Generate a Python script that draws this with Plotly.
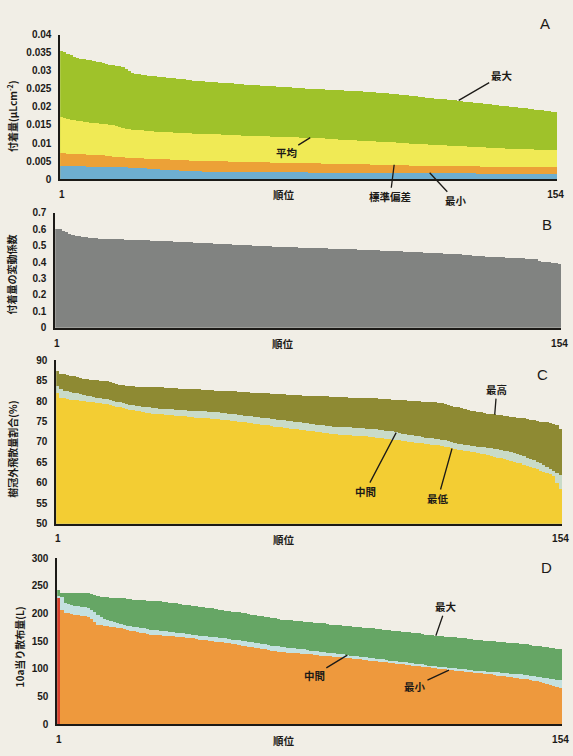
import plotly.graph_objects as go

W, H = 573, 756
ranks = list(range(1, 155))

# ---- A: deposition per rank (uL cm^-2) ----
deposit_max = [
    0.0355, 0.0352, 0.0348, 0.0344, 0.0340, 0.0336, 0.0334, 0.0333, 0.0331, 0.0330, 0.0328, 0.0326, 0.0324, 0.0322,
    0.0320, 0.0318, 0.0316, 0.0315, 0.0313, 0.0311, 0.0306, 0.0300, 0.0296, 0.0293, 0.0291, 0.0290, 0.0289, 0.0288,
    0.0287, 0.0286, 0.0285, 0.0284, 0.0283, 0.0282, 0.0281, 0.0280, 0.0279, 0.0278, 0.0277, 0.0276, 0.0275, 0.0274,
    0.0273, 0.0272, 0.0272, 0.0271, 0.0270, 0.0270, 0.0269, 0.0268, 0.0268, 0.0267, 0.0266, 0.0266, 0.0265, 0.0264,
    0.0264, 0.0263, 0.0262, 0.0262, 0.0261, 0.0261, 0.0260, 0.0259, 0.0259, 0.0258, 0.0258, 0.0257, 0.0256, 0.0256,
    0.0255, 0.0255, 0.0254, 0.0254, 0.0253, 0.0253, 0.0252, 0.0252, 0.0251, 0.0251, 0.0250, 0.0250, 0.0249, 0.0249,
    0.0248, 0.0248, 0.0247, 0.0247, 0.0246, 0.0246, 0.0245, 0.0245, 0.0244, 0.0244, 0.0243, 0.0243, 0.0242, 0.0242,
    0.0241, 0.0241, 0.0240, 0.0239, 0.0238, 0.0237, 0.0236, 0.0235, 0.0234, 0.0233, 0.0232, 0.0231, 0.0230, 0.0229,
    0.0228, 0.0227, 0.0226, 0.0225, 0.0224, 0.0224, 0.0223, 0.0222, 0.0221, 0.0220, 0.0219, 0.0218, 0.0217, 0.0216,
    0.0215, 0.0214, 0.0213, 0.0212, 0.0211, 0.0210, 0.0209, 0.0208, 0.0207, 0.0206, 0.0205, 0.0204, 0.0203, 0.0202,
    0.0201, 0.0200, 0.0199, 0.0198, 0.0197, 0.0196, 0.0195, 0.0194, 0.0193, 0.0192, 0.0191, 0.0190, 0.0188, 0.0186,
]
deposit_mean = [
    0.0172, 0.0170, 0.0168, 0.0166, 0.0165, 0.0163, 0.0162, 0.0160, 0.0159, 0.0158, 0.0157, 0.0156, 0.0155, 0.0154,
    0.0153, 0.0152, 0.0150, 0.0148, 0.0145, 0.0142, 0.0140, 0.0139, 0.0138, 0.0137, 0.0136, 0.0136, 0.0135, 0.0134,
    0.0134, 0.0133, 0.0133, 0.0132, 0.0132, 0.0131, 0.0131, 0.0130, 0.0130, 0.0129, 0.0129, 0.0128, 0.0128, 0.0127,
    0.0127, 0.0127, 0.0126, 0.0126, 0.0126, 0.0125, 0.0125, 0.0125, 0.0124, 0.0124, 0.0124, 0.0123, 0.0123, 0.0123,
    0.0122, 0.0122, 0.0122, 0.0121, 0.0121, 0.0121, 0.0120, 0.0120, 0.0120, 0.0119, 0.0119, 0.0119, 0.0118, 0.0118,
    0.0118, 0.0117, 0.0117, 0.0117, 0.0116, 0.0116, 0.0116, 0.0115, 0.0115, 0.0115, 0.0114, 0.0114, 0.0113, 0.0113,
    0.0112, 0.0112, 0.0111, 0.0111, 0.0110, 0.0110, 0.0109, 0.0109, 0.0108, 0.0108, 0.0107, 0.0107, 0.0106, 0.0106,
    0.0105, 0.0105, 0.0104, 0.0104, 0.0103, 0.0103, 0.0102, 0.0102, 0.0101, 0.0101, 0.0100, 0.0100, 0.0099, 0.0099,
    0.0098, 0.0098, 0.0097, 0.0097, 0.0096, 0.0096, 0.0095, 0.0095, 0.0094, 0.0094, 0.0093, 0.0093, 0.0092, 0.0092,
    0.0091, 0.0091, 0.0090, 0.0090, 0.0089, 0.0089, 0.0088, 0.0088, 0.0088, 0.0087, 0.0087, 0.0087, 0.0086, 0.0086,
    0.0086, 0.0085, 0.0085, 0.0085, 0.0084, 0.0084, 0.0084, 0.0083, 0.0083, 0.0083, 0.0082, 0.0082, 0.0082, 0.0081,
]
deposit_sd = [
    0.0073, 0.0073, 0.0072, 0.0072, 0.0071, 0.0071, 0.0070, 0.0070, 0.0069, 0.0069, 0.0068, 0.0068, 0.0067, 0.0067,
    0.0066, 0.0066, 0.0064, 0.0063, 0.0062, 0.0062, 0.0061, 0.0061, 0.0060, 0.0060, 0.0059, 0.0059, 0.0058, 0.0058,
    0.0057, 0.0057, 0.0057, 0.0056, 0.0056, 0.0056, 0.0055, 0.0055, 0.0055, 0.0054, 0.0054, 0.0054, 0.0053, 0.0053,
    0.0053, 0.0053, 0.0052, 0.0052, 0.0052, 0.0052, 0.0051, 0.0051, 0.0051, 0.0051, 0.0050, 0.0050, 0.0050, 0.0050,
    0.0049, 0.0049, 0.0049, 0.0049, 0.0048, 0.0048, 0.0048, 0.0048, 0.0048, 0.0047, 0.0047, 0.0047, 0.0047, 0.0047,
    0.0046, 0.0046, 0.0046, 0.0046, 0.0046, 0.0046, 0.0045, 0.0045, 0.0045, 0.0045, 0.0045, 0.0044, 0.0044, 0.0044,
    0.0044, 0.0044, 0.0043, 0.0043, 0.0043, 0.0043, 0.0043, 0.0042, 0.0042, 0.0042, 0.0042, 0.0042, 0.0041, 0.0041,
    0.0041, 0.0041, 0.0041, 0.0041, 0.0040, 0.0040, 0.0040, 0.0040, 0.0040, 0.0040, 0.0039, 0.0039, 0.0039, 0.0039,
    0.0039, 0.0039, 0.0039, 0.0038, 0.0038, 0.0038, 0.0038, 0.0038, 0.0038, 0.0038, 0.0037, 0.0037, 0.0037, 0.0037,
    0.0037, 0.0037, 0.0037, 0.0037, 0.0036, 0.0036, 0.0036, 0.0036, 0.0036, 0.0036, 0.0036, 0.0036, 0.0035, 0.0035,
    0.0035, 0.0035, 0.0035, 0.0035, 0.0035, 0.0035, 0.0035, 0.0034, 0.0034, 0.0034, 0.0034, 0.0034, 0.0034, 0.0034,
]
deposit_min = [
    0.0039, 0.0039, 0.0038, 0.0038, 0.0038, 0.0037, 0.0037, 0.0037, 0.0036, 0.0036, 0.0036, 0.0036, 0.0035, 0.0035,
    0.0035, 0.0035, 0.0035, 0.0034, 0.0034, 0.0034, 0.0034, 0.0033, 0.0033, 0.0032, 0.0032, 0.0031, 0.0031, 0.0030,
    0.0030, 0.0029, 0.0029, 0.0028, 0.0028, 0.0027, 0.0027, 0.0026, 0.0026, 0.0025, 0.0025, 0.0024, 0.0024, 0.0023,
    0.0023, 0.0023, 0.0022, 0.0022, 0.0022, 0.0022, 0.0022, 0.0021, 0.0021, 0.0021, 0.0021, 0.0021, 0.0021, 0.0020,
    0.0020, 0.0020, 0.0020, 0.0020, 0.0020, 0.0020, 0.0020, 0.0020, 0.0020, 0.0020, 0.0020, 0.0020, 0.0020, 0.0020,
    0.0020, 0.0020, 0.0020, 0.0020, 0.0020, 0.0020, 0.0020, 0.0019, 0.0019, 0.0019, 0.0019, 0.0019, 0.0019, 0.0019,
    0.0019, 0.0019, 0.0019, 0.0019, 0.0019, 0.0019, 0.0019, 0.0019, 0.0019, 0.0019, 0.0019, 0.0019, 0.0019, 0.0019,
    0.0019, 0.0019, 0.0019, 0.0019, 0.0018, 0.0018, 0.0018, 0.0018, 0.0018, 0.0018, 0.0018, 0.0018, 0.0018, 0.0018,
    0.0018, 0.0018, 0.0018, 0.0018, 0.0018, 0.0018, 0.0018, 0.0018, 0.0018, 0.0018, 0.0018, 0.0018, 0.0018, 0.0018,
    0.0018, 0.0018, 0.0018, 0.0017, 0.0017, 0.0017, 0.0017, 0.0017, 0.0017, 0.0017, 0.0017, 0.0017, 0.0017, 0.0017,
    0.0017, 0.0017, 0.0017, 0.0017, 0.0017, 0.0017, 0.0016, 0.0016, 0.0016, 0.0016, 0.0016, 0.0016, 0.0016, 0.0016,
]

# ---- B: coefficient of variation of deposition ----
deposit_cv = [
    0.605, 0.600, 0.592, 0.585, 0.575, 0.568, 0.562, 0.558, 0.555, 0.552, 0.550, 0.548, 0.546, 0.545,
    0.544, 0.543, 0.542, 0.541, 0.540, 0.540, 0.539, 0.538, 0.537, 0.537, 0.536, 0.535, 0.535, 0.534,
    0.533, 0.532, 0.531, 0.530, 0.530, 0.529, 0.528, 0.527, 0.526, 0.525, 0.524, 0.523, 0.522, 0.521,
    0.520, 0.519, 0.518, 0.517, 0.516, 0.515, 0.514, 0.513, 0.512, 0.511, 0.510, 0.509, 0.508, 0.507,
    0.506, 0.505, 0.504, 0.503, 0.502, 0.501, 0.500, 0.499, 0.498, 0.497, 0.496, 0.495, 0.494, 0.494,
    0.493, 0.492, 0.492, 0.491, 0.490, 0.490, 0.489, 0.488, 0.488, 0.487, 0.486, 0.486, 0.485, 0.484,
    0.484, 0.483, 0.482, 0.482, 0.481, 0.480, 0.480, 0.479, 0.478, 0.478, 0.477, 0.476, 0.475, 0.474,
    0.473, 0.472, 0.471, 0.470, 0.469, 0.468, 0.467, 0.466, 0.465, 0.464, 0.463, 0.462, 0.461, 0.460,
    0.459, 0.458, 0.457, 0.456, 0.455, 0.454, 0.453, 0.452, 0.451, 0.450, 0.449, 0.448, 0.446, 0.445,
    0.443, 0.441, 0.439, 0.437, 0.436, 0.435, 0.434, 0.433, 0.432, 0.431, 0.430, 0.429, 0.428, 0.427,
    0.426, 0.425, 0.424, 0.423, 0.422, 0.421, 0.420, 0.408, 0.404, 0.402, 0.400, 0.398, 0.395, 0.392,
]

# ---- C: share of spray drifting outside the canopy (%) ----
drift_high = [
    87.2, 86.6, 86.5, 86.3, 86.2, 86.0, 85.8, 85.5, 85.4, 85.3, 85.2, 85.1, 85.0, 84.9,
    84.9, 84.8, 84.6, 84.4, 84.2, 84.0, 83.8, 83.7, 83.6, 83.6, 83.5, 83.5, 83.5, 83.4,
    83.4, 83.4, 83.3, 83.3, 83.3, 83.2, 83.2, 83.1, 83.1, 83.0, 83.0, 82.9, 82.9, 82.8,
    82.8, 82.8, 82.7, 82.7, 82.6, 82.6, 82.5, 82.5, 82.4, 82.4, 82.4, 82.3, 82.3, 82.2,
    82.2, 82.1, 82.1, 82.0, 82.0, 81.9, 81.9, 81.8, 81.8, 81.7, 81.7, 81.7, 81.6, 81.6,
    81.5, 81.5, 81.5, 81.4, 81.4, 81.3, 81.3, 81.3, 81.2, 81.2, 81.1, 81.1, 81.1, 81.0,
    81.0, 81.0, 80.9, 80.9, 80.9, 80.8, 80.8, 80.8, 80.8, 80.7, 80.7, 80.7, 80.6, 80.6,
    80.5, 80.5, 80.4, 80.4, 80.3, 80.3, 80.2, 80.2, 80.1, 80.0, 80.0, 79.9, 79.9, 79.8,
    79.8, 79.7, 79.7, 79.6, 79.5, 79.4, 79.2, 79.0, 78.8, 78.6, 78.4, 78.2, 78.0, 77.8,
    77.5, 77.4, 77.3, 77.2, 77.0, 76.9, 76.8, 76.7, 76.6, 76.5, 76.3, 76.2, 76.1, 76.0,
    75.9, 75.8, 75.7, 75.5, 75.4, 75.2, 75.0, 74.9, 74.8, 74.7, 74.5, 74.3, 74.0, 73.0,
]
drift_mid = [
    83.6, 82.8, 82.5, 82.3, 82.2, 82.0, 81.8, 81.6, 81.4, 81.3, 81.1, 81.0, 80.8, 80.7,
    80.5, 80.4, 80.2, 80.0, 79.8, 79.6, 79.4, 79.2, 79.1, 79.0, 78.8, 78.7, 78.6, 78.5,
    78.4, 78.3, 78.2, 78.1, 78.0, 78.0, 77.9, 77.9, 77.8, 77.8, 77.7, 77.7, 77.6, 77.6,
    77.5, 77.5, 77.4, 77.4, 77.3, 77.3, 77.2, 77.2, 77.1, 77.0, 76.9, 76.8, 76.7, 76.6,
    76.5, 76.4, 76.3, 76.2, 76.1, 76.0, 75.9, 75.8, 75.7, 75.6, 75.5, 75.4, 75.3, 75.2,
    75.1, 75.0, 74.9, 74.8, 74.7, 74.6, 74.5, 74.4, 74.3, 74.2, 74.1, 74.0, 73.9, 73.8,
    73.7, 73.7, 73.6, 73.6, 73.5, 73.5, 73.4, 73.4, 73.3, 73.3, 73.2, 73.2, 73.1, 73.0,
    72.9, 72.8, 72.7, 72.6, 72.5, 72.3, 72.2, 72.0, 71.9, 71.7, 71.6, 71.4, 71.3, 71.1,
    71.0, 70.9, 70.8, 70.7, 70.7, 70.5, 70.3, 70.1, 69.9, 69.7, 69.5, 69.4, 69.2, 69.1,
    69.0, 68.9, 68.8, 68.7, 68.6, 68.5, 68.4, 68.3, 68.1, 67.9, 67.8, 67.6, 67.4, 67.2,
    67.0, 66.7, 66.4, 66.1, 65.8, 65.5, 65.1, 64.7, 64.3, 63.9, 63.4, 62.8, 62.3, 61.9,
]
drift_low = [
    82.0, 80.8, 80.6, 80.4, 80.3, 80.2, 80.1, 80.0, 79.9, 79.8, 79.7, 79.6, 79.5, 79.4,
    79.3, 79.2, 79.0, 78.8, 78.6, 78.4, 78.2, 78.0, 77.8, 77.7, 77.5, 77.4, 77.2, 77.1,
    77.0, 76.9, 76.8, 76.7, 76.7, 76.6, 76.6, 76.5, 76.4, 76.4, 76.3, 76.2, 76.1, 76.0,
    75.9, 75.9, 75.8, 75.7, 75.7, 75.6, 75.5, 75.5, 75.4, 75.3, 75.2, 75.1, 75.0, 74.9,
    74.8, 74.7, 74.6, 74.5, 74.4, 74.3, 74.2, 74.1, 74.0, 73.9, 73.7, 73.6, 73.5, 73.4,
    73.3, 73.2, 73.1, 73.0, 72.9, 72.8, 72.7, 72.6, 72.5, 72.4, 72.3, 72.2, 72.1, 72.0,
    71.9, 71.8, 71.7, 71.7, 71.6, 71.6, 71.5, 71.5, 71.4, 71.4, 71.3, 71.2, 71.1, 71.0,
    70.9, 70.8, 70.7, 70.6, 70.5, 70.4, 70.3, 70.2, 70.1, 70.0, 69.9, 69.8, 69.7, 69.6,
    69.5, 69.4, 69.3, 69.2, 69.1, 69.0, 68.8, 68.6, 68.4, 68.2, 68.0, 67.9, 67.8, 67.6,
    67.5, 67.4, 67.2, 67.0, 66.9, 66.7, 66.5, 66.3, 66.1, 65.9, 65.7, 65.5, 65.3, 65.1,
    64.9, 64.7, 64.4, 64.1, 63.8, 63.5, 63.2, 62.9, 62.6, 62.3, 62.0, 61.5, 60.0, 58.3,
]

# ---- D: spray volume per 10a (L) ----
volume_max = [
    242, 237, 237, 237, 237, 237, 236, 236, 236, 236, 235, 233, 231, 230,
    229, 229, 228, 228, 227, 227, 227, 226, 226, 225, 225, 224, 224, 223,
    223, 223, 222, 222, 221, 220, 219, 219, 218, 217, 216, 215, 215, 214,
    213, 212, 211, 210, 210, 209, 208, 207, 206, 205, 204, 203, 203, 202,
    201, 200, 199, 198, 197, 196, 195, 194, 193, 192, 191, 190, 189, 189,
    188, 188, 187, 186, 186, 185, 185, 184, 183, 183, 182, 182, 181, 180,
    180, 179, 179, 178, 177, 177, 176, 176, 175, 174, 174, 173, 173, 172,
    172, 171, 170, 170, 169, 168, 168, 167, 166, 166, 165, 164, 164, 163,
    162, 162, 161, 160, 160, 159, 158, 158, 157, 157, 156, 155, 155, 154,
    154, 153, 152, 152, 151, 151, 150, 150, 149, 148, 148, 147, 147, 146,
    146, 145, 144, 144, 143, 142, 141, 141, 140, 139, 138, 137, 136, 136,
]
volume_mid = [
    232, 230, 219, 217, 215, 214, 213, 212, 211, 210, 207, 202, 197, 193,
    190, 188, 186, 184, 183, 181, 180, 178, 177, 176, 175, 174, 173, 172,
    171, 170, 170, 169, 168, 168, 167, 166, 165, 165, 164, 163, 163, 162,
    161, 160, 160, 159, 158, 158, 157, 156, 155, 155, 154, 153, 152, 152,
    151, 150, 149, 148, 147, 146, 145, 144, 143, 142, 141, 141, 140, 139,
    138, 138, 137, 136, 135, 135, 134, 133, 132, 132, 131, 130, 129, 129,
    128, 127, 127, 126, 125, 124, 124, 123, 122, 121, 121, 120, 119, 118,
    118, 117, 116, 115, 115, 114, 113, 112, 112, 111, 110, 109, 109, 108,
    107, 106, 106, 105, 104, 103, 103, 102, 101, 101, 100, 99, 99, 98,
    98, 97, 97, 96, 96, 95, 95, 94, 94, 93, 93, 92, 91, 91,
    90, 90, 89, 89, 88, 87, 86, 85, 84, 83, 82, 81, 80, 80,
]
volume_min = [
    228, 207, 201, 200, 199, 198, 197, 196, 195, 194, 190, 185, 180, 179,
    178, 177, 176, 175, 174, 173, 172, 171, 169, 168, 167, 165, 164, 163,
    162, 162, 161, 161, 160, 160, 159, 159, 158, 157, 157, 156, 155, 155,
    154, 153, 152, 152, 151, 150, 149, 148, 148, 147, 146, 145, 144, 143,
    142, 141, 140, 139, 138, 137, 136, 135, 134, 133, 132, 131, 130, 130,
    129, 129, 128, 128, 127, 127, 126, 126, 125, 125, 124, 124, 123, 123,
    122, 122, 121, 120, 120, 119, 118, 118, 117, 116, 116, 115, 114, 114,
    113, 112, 112, 111, 110, 109, 109, 108, 107, 107, 106, 105, 105, 104,
    103, 103, 102, 101, 100, 100, 99, 98, 98, 97, 96, 96, 95, 94,
    94, 93, 92, 92, 91, 90, 90, 89, 88, 87, 87, 86, 85, 84,
    83, 82, 81, 81, 80, 79, 78, 77, 75, 73, 71, 69, 67, 65,
]

INK = "#1c1a17"
PAPER = "#f1eee6"
TICK_FONT = dict(family="Liberation Sans, Arial", size=10, color=INK, weight="bold")
JP_FONT = "Noto Sans CJK JP"

# the first-ranked field in D is drawn in red
volume_min_colors = ["#d9412e"] + ["#ee993d"] * (len(ranks) - 1)

# panel frames in pixels: left, right, top, bottom
panels = [
    dict(key="", left=60, right=564, top=29, bottom=176, rng=[0, 0.04], dtick=0.005,
         title="付着量(μLcm<sup>-2</sup>)", title_y=112, title_x=11, letter="A", letter_xy=(552, 18),
         series=[(deposit_max, "#9fc22a"), (deposit_mean, "#f0ea55"), (deposit_sd, "#eca137"), (deposit_min, "#6eaed0")]),
    dict(key="2", left=55, right=568, top=210, bottom=327, rng=[0, 0.7], dtick=0.1,
         title="付着量の変動係数", title_y=273, title_x=11, letter="B", letter_xy=(554, 222),
         series=[(deposit_cv, "#818381")]),
    dict(key="3", left=56, right=569, top=360, bottom=526, rng=[50, 90], dtick=5,
         title="樹冠外飛散量割合(%)", title_y=450, title_x=12, letter="C", letter_xy=(549, 374),
         series=[(drift_high, "#8e8a33"), (drift_mid, "#c9dbc8"), (drift_low, "#f3cd33")]),
    dict(key="4", left=57, right=569, top=561, bottom=730, rng=[0, 300], dtick=50,
         title="10a当り散布量(L)", title_y=651, title_x=19, letter="D", letter_xy=(553, 571),
         series=[(volume_max, "#66a665"), (volume_mid, "#c4e1e0"), (volume_min, volume_min_colors)]),
]

fig = go.Figure()
annotations = []
layout = {}

for p in panels:
    k = p["key"]
    xa, ya = "x" + k, "y" + k
    for values, color in p["series"]:
        fig.add_trace(go.Bar(
            x=ranks, y=values, width=1.0, xaxis=xa, yaxis=ya,
            marker=dict(color=color, line=dict(width=0)),
            showlegend=False, hoverinfo="skip",
        ))
    layout["xaxis" + k] = dict(
        domain=[p["left"] / W, p["right"] / W], anchor=ya, range=[0.5, 154.5],
        tickvals=[1, 154], ticktext=["1", "154"], ticks="outside", ticklen=5,
        tickcolor="rgba(0,0,0,0)", tickfont=TICK_FONT, showline=True, linecolor=INK,
        linewidth=1.6, showgrid=False, zeroline=False, fixedrange=True,
    )
    layout["yaxis" + k] = dict(
        domain=[1 - p["bottom"] / H, 1 - p["top"] / H], anchor=xa, range=p["rng"],
        dtick=p["dtick"], tick0=p["rng"][0], ticks="outside", ticklen=5,
        tickcolor="rgba(0,0,0,0)", tickfont=TICK_FONT, showline=True, linecolor=INK,
        linewidth=1.6, showgrid=False, zeroline=False, fixedrange=True,
    )
    annotations.append(dict(
        text=p["title"], textangle=-90, xref="paper", yref="paper",
        x=p["title_x"] / W, y=1 - p["title_y"] / H, xanchor="center", yanchor="middle",
        showarrow=False, font=dict(family=JP_FONT, size=10, color=INK, weight="bold"),
    ))
    annotations.append(dict(
        text="順位", xref="paper", yref="paper",
        x=(p["left"] + 0.45 * (p["right"] - p["left"])) / W, y=1 - (p["bottom"] + 16) / H,
        xanchor="center", yanchor="middle",
        showarrow=False, font=dict(family=JP_FONT, size=10.5, color=INK, weight="bold"),
    ))
    lx, ly = p["letter_xy"]
    annotations.append(dict(
        text=p["letter"], xref="paper", yref="paper", x=lx / W, y=1 - ly / H,
        xanchor="center", yanchor="middle",
        showarrow=False, font=dict(family="Liberation Sans, Arial", size=15, color=INK),
    ))

# leader-line labels: (axis key, text, series, rank, label offset dx, dy)
callouts = [
    ("", "最大", deposit_max, 124, 43, -25),
    ("", "平均", deposit_mean, 78, -24, 15),
    ("", "標準偏差", deposit_sd, 104, -4, 32),
    ("", "最小", deposit_min, 115, 26, 28),
    ("3", "最高", drift_high, 134, 2, -25),
    ("3", "中間", drift_mid, 104, -31, 59),
    ("3", "最低", drift_low, 121, -14, 50),
    ("4", "最大", volume_max, 116, 10, -29),
    ("4", "中間", volume_mid, 89, -33, 20),
    ("4", "最小", volume_min, 120, -34, 16),
]
for k, text, series, rank, dx, dy in callouts:
    annotations.append(dict(
        text=text, xref="x" + k, yref="y" + k, x=rank, y=series[rank - 1],
        ax=dx, ay=dy, showarrow=True, arrowhead=0, arrowwidth=1.3, arrowcolor=INK,
        font=dict(family=JP_FONT, size=10.5, color=INK, weight="bold"),
    ))

fig.update_layout(
    width=W, height=H, margin=dict(l=0, r=0, t=0, b=0),
    paper_bgcolor=PAPER, plot_bgcolor="rgba(0,0,0,0)",
    barmode="overlay", bargap=0, annotations=annotations, **layout,
)

fig.write_html("out.html", config=dict(displayModeBar=False))
